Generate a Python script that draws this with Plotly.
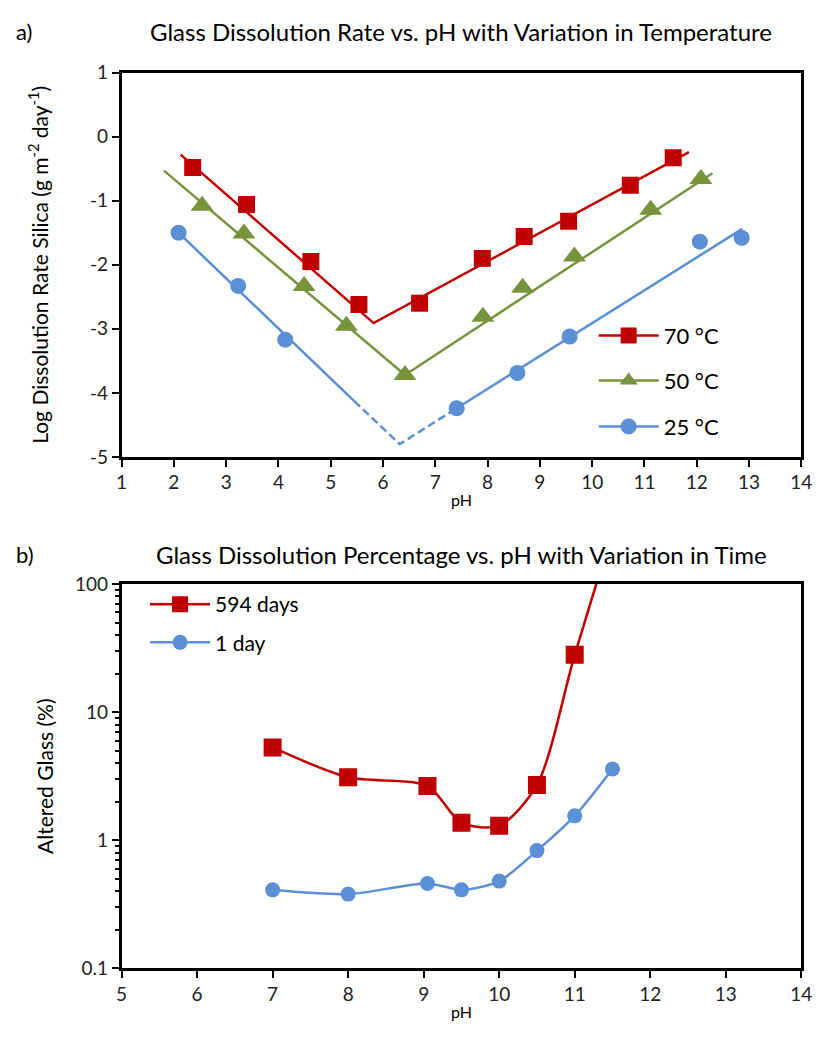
import plotly.graph_objects as go

# ---------- Panel a data ----------
ph70 = [2.36, 3.39, 4.62, 5.54, 6.70, 7.90, 8.70, 9.55, 10.73, 11.55]
rate70 = [-0.48, -1.06, -1.95, -2.62, -2.60, -1.90, -1.56, -1.32, -0.76, -0.33]
fit70_x = [2.13, 5.82, 11.85]
fit70_y = [-0.28, -2.91, -0.24]

ph50 = [2.54, 3.34, 4.49, 5.30, 6.42, 7.91, 8.67, 9.66, 11.12, 12.08]
rate50 = [-1.08, -1.51, -2.33, -2.95, -3.72, -2.81, -2.36, -1.87, -1.14, -0.66]
fit50_x = [1.81, 6.42, 12.30]
fit50_y = [-0.53, -3.72, -0.57]

ph25 = [2.09, 3.23, 4.13, 7.41, 8.57, 9.57, 12.06, 12.86]
rate25 = [-1.50, -2.33, -3.17, -4.24, -3.69, -3.12, -1.64, -1.58]
fit25_left_x = [2.09, 5.45]
fit25_left_y = [-1.50, -4.13]
fit25_dash_x = [5.45, 6.32, 7.41]
fit25_dash_y = [-4.13, -4.80, -4.24]
fit25_right_x = [7.41, 12.87]
fit25_right_y = [-4.24, -1.44]

ya_ticks = [1, 0, -1, -2, -3, -4, -5]
ya_text = ["1", "0", "-1", "-2", "-3", "-4", "-5"]
xa_ticks = list(range(1, 15))

# ---------- Panel b data ----------
ph594 = [7.0, 8.0, 9.05, 9.5, 10.0, 10.5, 11.0, 11.5]
alt594 = [5.3, 3.1, 2.65, 1.37, 1.3, 2.7, 28.0, 260.0]
ph1 = [7.0, 8.0, 9.05, 9.5, 10.0, 10.5, 11.0, 11.5]
alt1 = [0.41, 0.38, 0.46, 0.41, 0.48, 0.83, 1.55, 3.6]
yb_ticks = [0.1, 1, 10, 100]
yb_text = ["0.1", "1", "10", "100"]
xb_ticks = list(range(5, 15))
yb_minor = [d * m for d in (0.1, 1, 10) for m in range(2, 10)]

RED = "#C00000"
GREEN = "#77933C"
BLUE = "#5B8FD6"
FONT = "Lato, Carlito, Calibri, sans-serif"

W, H = 826, 1039
def px(x):
    return x / W
def py(y):
    return 1 - y / H

fig = go.Figure()

# panel a fit lines
fig.add_trace(go.Scatter(x=fit70_x, y=fit70_y, mode="lines", line=dict(color=RED, width=2.5),
                         xaxis="x", yaxis="y", showlegend=False, hoverinfo="skip"))
fig.add_trace(go.Scatter(x=fit50_x, y=fit50_y, mode="lines", line=dict(color=GREEN, width=2.5),
                         xaxis="x", yaxis="y", showlegend=False, hoverinfo="skip"))
fig.add_trace(go.Scatter(x=fit25_left_x, y=fit25_left_y, mode="lines", line=dict(color=BLUE, width=2.5),
                         xaxis="x", yaxis="y", showlegend=False, hoverinfo="skip"))
fig.add_trace(go.Scatter(x=fit25_dash_x, y=fit25_dash_y, mode="lines",
                         line=dict(color=BLUE, width=2.5, dash="8px,4px"),
                         xaxis="x", yaxis="y", showlegend=False, hoverinfo="skip"))
fig.add_trace(go.Scatter(x=fit25_right_x, y=fit25_right_y, mode="lines", line=dict(color=BLUE, width=2.5),
                         xaxis="x", yaxis="y", showlegend=False, hoverinfo="skip"))

# panel a markers
fig.add_trace(go.Scatter(x=ph70, y=rate70, mode="markers", marker=dict(symbol="square", size=17, color=RED),
                         xaxis="x", yaxis="y", showlegend=False))
fig.add_trace(go.Scatter(x=ph50, y=rate50, mode="markers", marker=dict(symbol="triangle-up", size=20, color=GREEN),
                         xaxis="x", yaxis="y", showlegend=False))
fig.add_trace(go.Scatter(x=ph25, y=rate25, mode="markers", marker=dict(symbol="circle", size=16, color=BLUE),
                         xaxis="x", yaxis="y", showlegend=False))

# panel a legend entries
fig.add_trace(go.Scatter(x=[None], y=[None], mode="lines+markers", name="70 °C",
                         line=dict(color=RED, width=2.5), marker=dict(symbol="square", size=17, color=RED),
                         xaxis="x", yaxis="y", legend="legend"))
fig.add_trace(go.Scatter(x=[None], y=[None], mode="lines+markers", name="50 °C",
                         line=dict(color=GREEN, width=2.5), marker=dict(symbol="triangle-up", size=20, color=GREEN),
                         xaxis="x", yaxis="y", legend="legend2"))
fig.add_trace(go.Scatter(x=[None], y=[None], mode="lines+markers", name="25 °C",
                         line=dict(color=BLUE, width=2.5), marker=dict(symbol="circle", size=16, color=BLUE),
                         xaxis="x", yaxis="y", legend="legend3"))

# panel b
fig.add_trace(go.Scatter(x=ph594, y=alt594, mode="lines+markers", name="594 days",
                         line=dict(color=RED, width=2.5, shape="spline", smoothing=0.8),
                         marker=dict(symbol="square", size=18, color=RED),
                         xaxis="x2", yaxis="y2", legend="legend4"))
fig.add_trace(go.Scatter(x=ph1, y=alt1, mode="lines+markers", name="1 day",
                         line=dict(color=BLUE, width=2.5, shape="spline", smoothing=0.8),
                         marker=dict(symbol="circle", size=15, color=BLUE),
                         xaxis="x2", yaxis="y2", legend="legend5"))

axis_common = dict(showline=True, linecolor="black", linewidth=2.5, mirror=True,
                   ticks="outside", ticklen=7, tickwidth=2, tickcolor="black",
                   showgrid=False, zeroline=False,
                   tickfont=dict(family=FONT, size=19, color="#222"))

leg_common = dict(xanchor="left", yanchor="middle", bgcolor="rgba(0,0,0,0)", itemwidth=60)

fig.update_layout(
    width=W, height=H,
    margin=dict(l=0, r=0, t=0, b=0),
    paper_bgcolor="white", plot_bgcolor="white",
    font=dict(family=FONT, color="black"),
    xaxis=dict(domain=[px(118), px(812)], anchor="y", range=[1, 14], tickvals=xa_ticks,
               title=dict(text="pH", font=dict(size=16), standoff=3), **axis_common),
    yaxis=dict(domain=[py(455), py(62)], anchor="x", range=[-5, 1], tickvals=ya_ticks, ticktext=ya_text,
               title=dict(text="Log Dissolution Rate Silica (g m<sup>-2</sup> day<sup>-1</sup>)",
                          font=dict(size=21), standoff=36), **axis_common),
    xaxis2=dict(domain=[px(118), px(812)], anchor="y2", range=[5, 14], tickvals=xb_ticks,
                title=dict(text="pH", font=dict(size=16), standoff=3), **axis_common),
    yaxis2=dict(domain=[py(978), py(585)], anchor="x2", type="log", range=[-1, 2],
                tickvals=yb_ticks, ticktext=yb_text,
                minor=dict(tickvals=yb_minor, ticks="outside", ticklen=4, tickwidth=1.5,
                           tickcolor="black", showgrid=False),
                title=dict(text="Altered Glass (%)", font=dict(size=21), standoff=16), **axis_common),
    legend=dict(x=px(600), y=py(331), font=dict(size=22, family=FONT), **leg_common),
    legend2=dict(x=px(600), y=py(377), font=dict(size=22, family=FONT), **leg_common),
    legend3=dict(x=px(600), y=py(424), font=dict(size=22, family=FONT), **leg_common),
    legend4=dict(x=px(142), y=py(606), font=dict(size=21, family=FONT), **leg_common),
    legend5=dict(x=px(142), y=py(645), font=dict(size=21, family=FONT), **leg_common),
    annotations=[
        dict(text="a)", x=px(8), y=py(20), xref="paper", yref="paper", xanchor="left", yanchor="middle",
             showarrow=False, font=dict(size=22, family=FONT)),
        dict(text="Glass Dissolution Rate vs. pH with Variation in Temperature", x=px(465), y=py(20),
             xref="paper", yref="paper", xanchor="center", yanchor="middle", showarrow=False,
             font=dict(size=24, family=FONT)),
        dict(text="b)", x=px(8), y=py(555), xref="paper", yref="paper", xanchor="left", yanchor="middle",
             showarrow=False, font=dict(size=22, family=FONT)),
        dict(text="Glass Dissolution Percentage vs. pH with Variation in Time", x=px(465), y=py(555),
             xref="paper", yref="paper", xanchor="center", yanchor="middle", showarrow=False,
             font=dict(size=24, family=FONT)),
    ],
)

fig.write_html("out.html")
